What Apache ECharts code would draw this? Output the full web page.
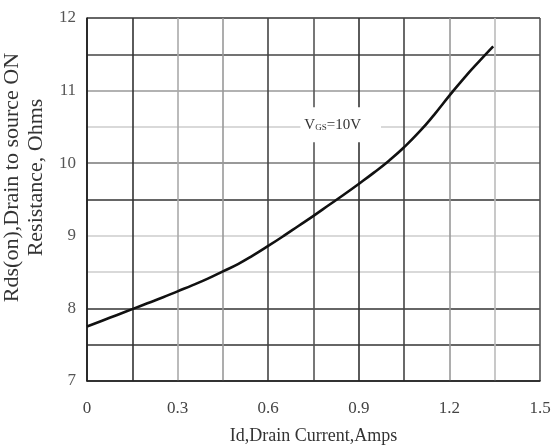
<!DOCTYPE html>
<html>
<head>
<meta charset="utf-8">
<script src="https://cdn.jsdelivr.net/npm/echarts@6/dist/echarts.min.js"></script>
<style>html,body{margin:0;padding:0;background:#fff}#c{width:559px;height:448px}</style>
</head>
<body>
<div id="c"></div>
<script>
// Data
const currentA = [0, 0.05, 0.1, 0.15, 0.2, 0.25, 0.3, 0.35, 0.4, 0.45, 0.5, 0.55, 0.6, 0.65, 0.7, 0.75, 0.8, 0.85, 0.9, 0.95, 1.0, 1.05, 1.1, 1.15, 1.2, 1.25, 1.3, 1.345];
const rdsOn = [7.75, 7.83, 7.91, 7.99, 8.07, 8.15, 8.235, 8.32, 8.41, 8.51, 8.61, 8.73, 8.86, 8.995, 9.135, 9.275, 9.42, 9.565, 9.715, 9.87, 10.035, 10.22, 10.43, 10.67, 10.93, 11.18, 11.41, 11.61];
const xTickLabels = ['0', '0.3', '0.6', '0.9', '1.2', '1.5'];
const yTickLabels = ['7', '8', '9', '10', '11', '12'];
const xTitle = 'Id,Drain Current,Amps';
const yTitle = 'Rds(on),Drain to source ON\nResistance, Ohms';
const noteAt = [0.84, 10.53];

const serif = '"Liberation Serif", "DejaVu Serif", serif';
const xGridColors = ['#222', '#333', '#aaa', '#999', '#444', '#555', '#333', '#444', '#999', '#bbb', '#555'];
const yGridColors = ['#333', '#333', '#333', '#ccc', '#ccc', '#333', '#777', '#ccc', '#999', '#444', '#333'];

function pick(labels) {
  return function (v) {
    for (const l of labels) { if (Math.abs(Number(l) - v) < 1e-6) return l; }
    return '';
  };
}

const chart = echarts.init(document.getElementById('c'), null, {renderer: 'canvas'});
chart.setOption({
  animation: false,
  backgroundColor: '#fff',
  grid: {left: 87, right: 19, top: 18, bottom: 67, containLabel: false, outerBoundsMode: 'none'},
  xAxis: {
    type: 'value', min: 0, max: 1.5, interval: 0.15,
    name: xTitle, nameLocation: 'middle', nameGap: 46,
    nameTextStyle: {fontFamily: serif, fontSize: 18, color: '#333'},
    axisLine: {show: true, lineStyle: {color: '#222', width: 1.6}},
    axisTick: {show: false},
    axisLabel: {formatter: pick(xTickLabels), fontFamily: serif, fontSize: 17, color: '#444', margin: 19},
    splitLine: {show: true, lineStyle: {color: xGridColors, width: 1.6}}
  },
  yAxis: {
    type: 'value', min: 7, max: 12, interval: 0.5,
    name: yTitle, nameLocation: 'middle', nameGap: 37, nameRotate: 90,
    nameTextStyle: {fontFamily: serif, fontSize: 22, lineHeight: 24, color: '#333', align: 'center', padding: [0, 0, 0, 44]},
    axisLine: {show: true, lineStyle: {color: '#222', width: 1.6}},
    axisTick: {show: false},
    axisLabel: {formatter: pick(yTickLabels), fontFamily: serif, fontSize: 17, color: '#555', margin: 11},
    splitLine: {show: true, lineStyle: {color: yGridColors, width: 1.6}}
  },
  series: [{
    type: 'line',
    data: currentA.map((x, i) => [x, rdsOn[i]]),
    smooth: 0.5,
    showSymbol: false,
    lineStyle: {color: '#111', width: 2.6},
    markPoint: {
      symbol: 'rect', symbolSize: 0, silent: true,
      data: [{coord: noteAt}],
      label: {
        show: true, position: 'inside',
        formatter: '{v|V}{s|GS}{v|=10V}',
        backgroundColor: '#fff', padding: [10, 20, 10, 4],
        rich: {
          v: {fontFamily: serif, fontSize: 15, color: '#333'},
          s: {fontFamily: serif, fontSize: 9, color: '#333', verticalAlign: 'bottom', padding: [6, 0, 0, 0]}
        }
      }
    }
  }]
});
</script>
</body>
</html>
